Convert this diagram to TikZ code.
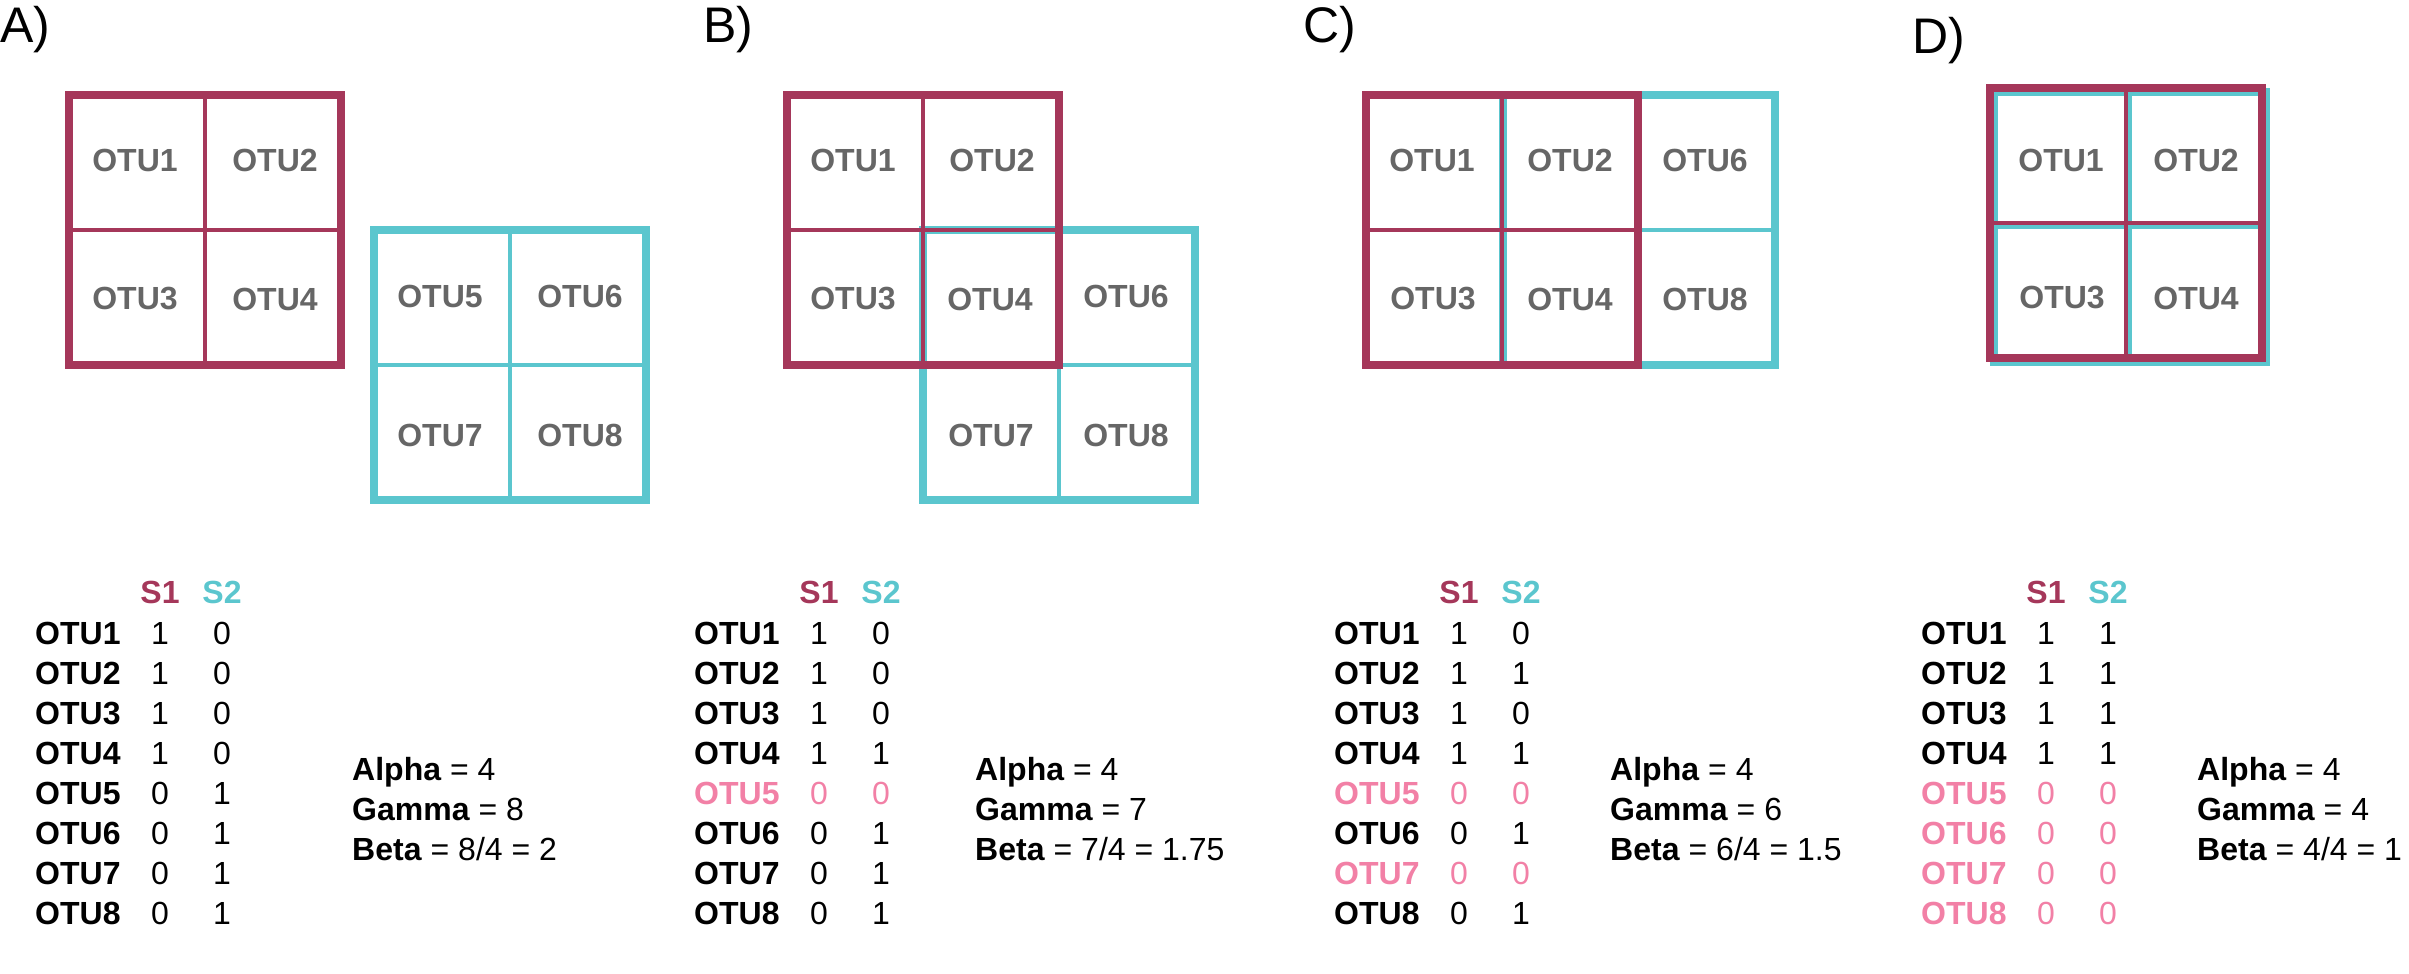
\documentclass[tikz,border=0pt]{standalone}
\usepackage{fontspec}
\setmainfont{Liberation Sans}
\definecolor{mag}{HTML}{A5375A}
\definecolor{cya}{HTML}{5BC6CE}
\definecolor{pnk}{HTML}{F280A6}
\definecolor{gry}{HTML}{666666}
\tikzset{
  cell/.style={font=\fontsize{32}{38}\selectfont\bfseries, text=gry, inner sep=0pt},
  hdr/.style={font=\fontsize{32}{38}\selectfont\bfseries, inner sep=0pt, anchor=base},
  rowlab/.style={font=\fontsize{32}{38}\selectfont\bfseries, inner sep=0pt, anchor=base west},
  num/.style={font=\fontsize{32}{38}\selectfont, inner sep=0pt, anchor=base},
  stat/.style={font=\fontsize{32}{38}\selectfont, inner sep=0pt, anchor=base west},
  panel/.style={font=\fontsize{50}{56}\selectfont, inner sep=0pt, anchor=base west},
  outer/.style={line width=8pt},
  inner/.style={line width=4pt}
}
% #1 x, #2 y of outer top-left corner, #3 colour
\newcommand\otusquare[3]{%
  \draw[#3, outer] (#1+4,#2+4) rectangle (#1+276,#2+274);
  \draw[#3, inner] (#1+140,#2+8) -- (#1+140,#2+270);
  \draw[#3, inner] (#1+8,#2+139) -- (#1+272,#2+139);
}
% #1 x of labels, #2 name prefix, #3 rows, #4 alpha x, #5 gamma, #6 beta
\newcommand\otutable[6]{%
  \node[hdr, text=mag] (#2s1) at (#1+125,603) {S1};
  \node[hdr, text=cya] (#2s2) at (#1+187,603) {S2};
  \foreach \ix/\va/\vb/\tc in {#3} {
    \node[rowlab, text=\tc] (#2r\ix) at (#1,604+40*\ix) {OTU\ix};
    \node[num, text=\tc] (#2a\ix) at (#1+125,604+40*\ix) {\va};
    \node[num, text=\tc] (#2b\ix) at (#1+187,604+40*\ix) {\vb};
  }
  \node[stat] (#2alpha) at (#4,780) {\textbf{Alpha} = 4};
  \node[stat] (#2gamma) at (#4,820) {\textbf{Gamma} = #5};
  \node[stat] (#2beta) at (#4,860) {\textbf{Beta} = #6};
}
\begin{document}
\begin{tikzpicture}[x=1pt,y=-1pt]
\useasboundingbox (0,0) rectangle (2409,974);
\fill[white] (0,0) rectangle (2409,974);

% panel labels
\node[panel] (labA) at (0,43) {A)};
\node[panel] (labB) at (703,43) {B)};
\node[panel] (labC) at (1303,43) {C)};
\node[panel] (labD) at (1912,54) {D)};

% ---------- A ----------
\otusquare{65}{91}{mag}
\otusquare{370}{226}{cya}
\node[cell] (A1) at (135,160) {OTU1};
\node[cell] (A2) at (275,160) {OTU2};
\node[cell] (A3) at (135,299) {OTU3};
\node[cell] (A4) at (275,299) {OTU4};
\node[cell] (A5) at (440,296) {OTU5};
\node[cell] (A6) at (580,296) {OTU6};
\node[cell] (A7) at (440,435) {OTU7};
\node[cell] (A8) at (580,435) {OTU8};

% ---------- B ----------
\otusquare{919}{226}{cya}
\otusquare{783}{91}{mag}
\node[cell] (B1) at (853,160) {OTU1};
\node[cell] (B2) at (992,160) {OTU2};
\node[cell] (B3) at (853,299) {OTU3};
\node[cell] (B4) at (990,299) {OTU4};
\node[cell] (B6) at (1126,296) {OTU6};
\node[cell] (B7) at (991,435) {OTU7};
\node[cell] (B8) at (1126,435) {OTU8};

% ---------- C ----------
\otusquare{1499}{91}{cya}
\otusquare{1362}{91}{mag}
\node[cell] (C1) at (1432,160) {OTU1};
\node[cell] (C2) at (1570,160) {OTU2};
\node[cell] (C3) at (1433,299) {OTU3};
\node[cell] (C4) at (1570,299) {OTU4};
\node[cell] (C6) at (1705,160) {OTU6};
\node[cell] (C8) at (1705,299) {OTU8};

% ---------- D ----------
\otusquare{1990}{88}{cya}
\otusquare{1986}{84}{mag}
\node[cell] (D1) at (2061,160) {OTU1};
\node[cell] (D2) at (2196,160) {OTU2};
\node[cell] (D3) at (2062,298) {OTU3};
\node[cell] (D4) at (2196,298) {OTU4};

% ---------- tables ----------
\otutable{35}{tA}{1/1/0/black,2/1/0/black,3/1/0/black,4/1/0/black,5/0/1/black,6/0/1/black,7/0/1/black,8/0/1/black}{352}{8}{8/4 = 2}
\otutable{694}{tB}{1/1/0/black,2/1/0/black,3/1/0/black,4/1/1/black,5/0/0/pnk,6/0/1/black,7/0/1/black,8/0/1/black}{975}{7}{7/4 = 1.75}
\otutable{1334}{tC}{1/1/0/black,2/1/1/black,3/1/0/black,4/1/1/black,5/0/0/pnk,6/0/1/black,7/0/0/pnk,8/0/1/black}{1610}{6}{6/4 = 1.5}
\otutable{1921}{tD}{1/1/1/black,2/1/1/black,3/1/1/black,4/1/1/black,5/0/0/pnk,6/0/0/pnk,7/0/0/pnk,8/0/0/pnk}{2197}{4}{4/4 = 1}
\end{tikzpicture}
\end{document}
